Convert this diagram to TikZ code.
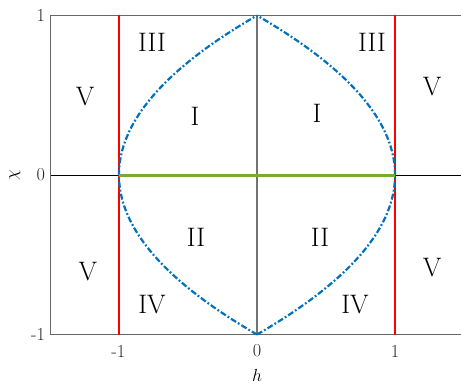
\documentclass[tikz,border=0pt]{standalone}
\usepackage{xcolor}
\usepackage{tikz}
\usetikzlibrary{positioning}
\definecolor{mblue}{rgb}{0,0.447,0.741}
\definecolor{mgreen}{rgb}{0.466,0.674,0.188}

\begin{document}
\begin{tikzpicture}[x=6.9cm,y=7.975cm,
  region/.style={font=\fontsize{38}{40}\selectfont,inner sep=0pt},
  ticklab/.style={font=\fontsize{26}{28}\selectfont,text=black!85,inner sep=0pt},
  axlab/.style={font=\fontsize{38}{40}\selectfont,inner sep=0pt},
  frame/.style={draw=black!60,line width=0.55mm},
  zeroline/.style={draw=black,line width=0.45mm},
  hline/.style={draw=black!55,line width=0.55mm},
  wall/.style={draw=red,line width=1.1mm},
  segment/.style={draw=mgreen,line width=1.5mm},
  lens/.style={draw=mblue,line width=1.1mm,
               dash pattern=on 3mm off 1.1mm on 0.9mm off 1.1mm},
]
\useasboundingbox (-1.862,-1.317) rectangle (1.478,1.097);

% corners of the axes box
\coordinate (tl) at (-1.493,1);
\coordinate (bl) at (-1.493,-1);
\coordinate (tr) at (1.478,1);
\coordinate (br) at (1.478,-1);
\coordinate (ml) at (-1.493,0);
\coordinate (mr) at (1.478,0);
\coordinate (top) at (0,1);
\coordinate (bot) at (0,-1);
\coordinate (wl) at (-1,0);
\coordinate (wr) at (1,0);

% axes
\draw[frame] (tr) -- (tl) -- (bl) -- (br);
\draw[zeroline] (ml) -- (mr);
\draw[hline] (top) -- (bot);

% region boundaries
\draw[wall] (-1,1) -- (-1,-1);
\draw[wall] (1,1) -- (1,-1);
\draw[lens] plot[domain=-1:1,samples=81] ({1-\x*\x},\x);
\draw[lens] plot[domain=-1:1,samples=81] ({-1+\x*\x},\x);
\draw[segment] (wl) -- (wr);

% region labels
\node[region] (r3l) at (-0.761,0.834) {III};
\node[region] (r3r) at (0.833,0.834) {III};
\node[region] (r5a) at (-1.246,0.489) {V};
\node[region] (r5b) at (1.268,0.552) {V};
\node[region] (r1l) at (-0.449,0.370) {I};
\node[region] (r1r) at (0.435,0.389) {I};
\node[region] (r2l) at (-0.442,-0.389) {II};
\node[region] (r2r) at (0.457,-0.389) {II};
\node[region] (r5c) at (-1.225,-0.608) {V};
\node[region] (r5d) at (1.268,-0.583) {V};
\node[region] (r4l) at (-0.761,-0.815) {IV};
\node[region] (r4r) at (0.710,-0.815) {IV};

% tick labels
\node[ticklab,anchor=east] (yt1) at (-1.535,1) {1};
\node[ticklab,anchor=east] (yt0) at (-1.535,0) {0};
\node[ticklab,anchor=east] (ytm) at (-1.535,-1) {-1};
\node[ticklab] (xtm) at (-1.005,-1.103) {-1};
\node[ticklab] (xt0) at (0,-1.103) {0};
\node[ticklab] (xt1) at (1,-1.103) {1};

% axis labels
\node[axlab] (hlab) at (0,-1.258) {$h$};
\node[axlab,rotate=90] (clab) at (-1.754,0) {$\chi$};
\end{tikzpicture}
\end{document}
